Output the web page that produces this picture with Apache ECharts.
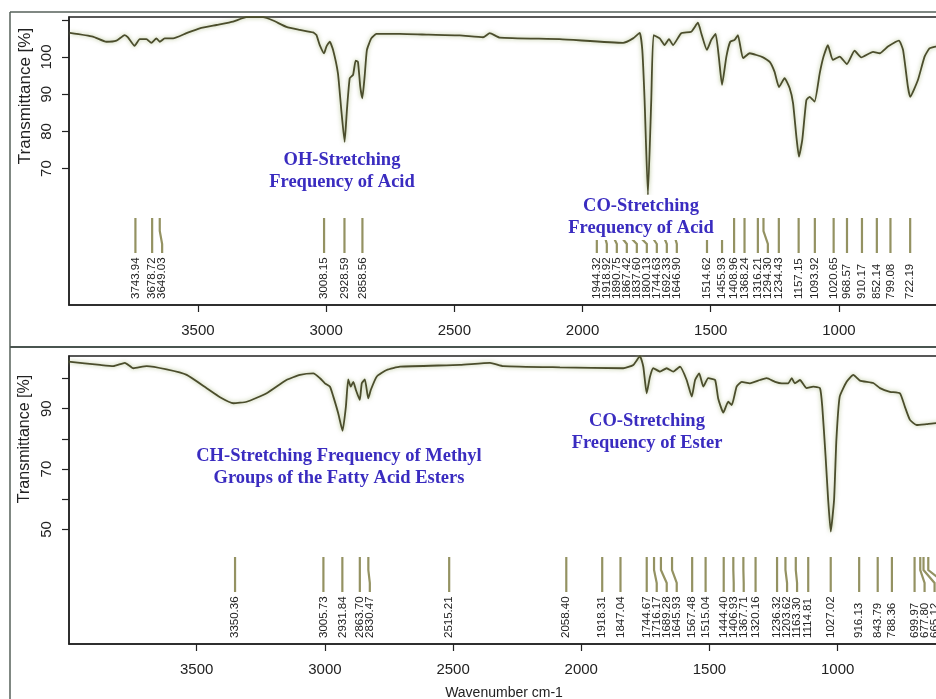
<!DOCTYPE html>
<html>
<head>
<meta charset="utf-8">
<script src="https://cdn.jsdelivr.net/npm/echarts@6/dist/echarts.min.js"></script>
<style>
  html, body { margin: 0; padding: 0; background: #fff; }
  #chart { width: 936px; height: 699px; }
</style>
</head>
<body>
<div id="chart"></div>
<script>
// Upper spectrum: fatty acid (wavenumber in cm-1, transmittance in %)
const topWavenumber = [4000, 3910, 3857, 3818, 3786, 3773, 3747, 3727, 3701, 3682, 3662, 3649, 3630, 3597, 3545, 3493, 3428, 3363, 3311, 3246, 3207, 3155, 3103, 3051, 3038, 3025, 3008, 2999, 2986, 2973, 2954, 2941, 2928, 2919, 2908, 2895, 2885, 2876, 2867, 2859, 2850, 2841, 2824, 2804, 2713, 2600, 2479, 2388, 2362, 2323, 2089, 1842, 1803, 1777, 1767, 1758, 1745, 1732, 1723, 1699, 1680, 1663, 1647, 1615, 1576, 1550, 1537, 1515, 1498, 1481, 1468, 1456, 1439, 1424, 1407, 1394, 1374, 1348, 1296, 1270, 1251, 1234, 1212, 1192, 1179, 1166, 1156, 1143, 1127, 1114, 1095, 1075, 1060, 1043, 1024, 997, 969, 939, 913, 867, 841, 809, 766, 750, 731, 722, 692, 666, 647, 623, 550, 450];
const topTransmittance = [106.5, 105.5, 104.1, 104.4, 105.9, 105.3, 103.0, 104.8, 104.8, 103.8, 105.0, 104.1, 105.0, 105.0, 106.4, 107.7, 108.6, 109.5, 110.7, 110.7, 109.8, 108.1, 107.3, 106.6, 105.9, 103.2, 101.0, 102.8, 104.1, 101.9, 95.6, 85.8, 77.2, 85.8, 94.3, 95.2, 99.0, 98.7, 92.0, 88.9, 94.7, 101.9, 105.0, 106.2, 106.2, 106.0, 105.8, 105.3, 106.4, 105.2, 104.8, 103.8, 105.0, 106.5, 101.9, 88.4, 62.9, 88.4, 105.9, 105.0, 103.2, 104.8, 103.2, 106.4, 106.8, 109.2, 106.4, 101.9, 104.6, 106.2, 99.7, 92.5, 100.1, 104.1, 104.6, 105.9, 99.7, 101.0, 99.9, 98.7, 96.0, 91.9, 94.3, 91.6, 87.6, 78.6, 73.2, 77.7, 88.4, 89.3, 88.0, 95.6, 100.1, 103.2, 99.2, 100.1, 98.1, 101.7, 99.9, 101.4, 101.0, 102.8, 104.4, 101.9, 92.0, 89.3, 93.8, 100.1, 102.3, 102.8, 103.0, 103.0];

// Lower spectrum: fatty acid esters
const bottomWavenumber = [4000, 3877, 3825, 3780, 3747, 3695, 3617, 3539, 3461, 3409, 3357, 3305, 3227, 3150, 3097, 3045, 3019, 3000, 2980, 2967, 2948, 2931, 2918, 2909, 2899, 2889, 2879, 2864, 2856, 2844, 2831, 2821, 2798, 2759, 2707, 2473, 2356, 2304, 2083, 1836, 1797, 1771, 1758, 1745, 1732, 1719, 1693, 1667, 1641, 1615, 1589, 1569, 1556, 1540, 1524, 1505, 1478, 1466, 1446, 1427, 1413, 1394, 1374, 1342, 1303, 1277, 1244, 1218, 1193, 1179, 1167, 1147, 1121, 1095, 1069, 1060, 1047, 1037, 1027, 1014, 1005, 992, 965, 939, 913, 861, 835, 796, 757, 738, 718, 692, 653, 616, 550, 450];
const bottomTransmittance = [105.6, 104.5, 104.1, 105.2, 103.4, 104.1, 103.0, 101.2, 96.8, 93.8, 91.8, 92.3, 95.1, 99.5, 101.2, 101.7, 100.1, 98.4, 97.3, 94.0, 88.5, 82.7, 90.7, 99.7, 97.3, 98.9, 96.2, 92.9, 98.4, 99.7, 93.4, 96.2, 100.6, 102.8, 103.9, 104.5, 105.2, 104.1, 103.7, 103.4, 104.5, 107.4, 103.9, 95.1, 100.6, 103.4, 102.3, 103.4, 102.3, 103.9, 99.5, 94.0, 99.5, 101.7, 97.3, 100.1, 99.5, 93.4, 88.7, 92.3, 91.2, 97.3, 98.9, 98.4, 99.5, 100.1, 98.9, 98.4, 98.4, 100.1, 98.4, 99.5, 96.8, 97.3, 96.8, 90.7, 74.1, 59.8, 49.3, 59.8, 79.6, 94.0, 98.9, 101.2, 99.3, 98.5, 96.8, 95.6, 95.1, 90.7, 86.3, 84.6, 84.9, 85.2, 85.2, 85.0];

// Picked peak positions (cm-1)
const topPeaks = [3743.94, 3678.72, 3649.03, 3008.15, 2928.59, 2858.56, 1944.32, 1918.92, 1890.75, 1867.42, 1837.60, 1800.13, 1744.63, 1692.33, 1646.90, 1514.62, 1455.93, 1408.96, 1368.24, 1316.21, 1294.30, 1234.43, 1157.15, 1093.92, 1020.65, 968.57, 910.17, 852.14, 799.08, 722.19];
const bottomPeaks = [3350.36, 3005.73, 2931.84, 2863.70, 2830.47, 2515.21, 2058.40, 1918.31, 1847.04, 1744.67, 1716.17, 1689.28, 1645.93, 1567.48, 1515.04, 1444.40, 1406.93, 1367.71, 1320.16, 1236.32, 1203.62, 1163.30, 1114.81, 1027.02, 916.13, 843.79, 788.36, 699.97, 677.80, 665.12, 646.53];

// Axis ticks and labels
const xTicks = [3500, 3000, 2500, 2000, 1500, 1000, 500];
const topYTicks = [70, 80, 90, 100, 110];
const topYLabels = [70, 80, 90, 100];
const bottomYTicks = [50, 60, 70, 80, 90, 100];
const bottomYLabels = [50, 70, 90];

const TOP_Y = { min: 33.33, max: 110.75 };
const BOTTOM_Y = { min: 12.09, max: 107.45 };

const SANS = '"Liberation Sans", Arial, sans-serif';
const SERIF = '"Liberation Serif", "Times New Roman", serif';
const INK = '#222';
const NOTE = '#3a2cc0';
const LABEL_GAP = 10;

function zip(xs, ys) { return xs.map((x, i) => [x, ys[i]]); }
const plain = v => String(v);

// wavenumber axis runs from high (left) to low (right)
function xAxis(gridIndex, low, high) {
  return {
    type: 'value', gridIndex, inverse: true, min: low, max: high,
    axisLine: { show: true, onZero: false, lineStyle: { color: INK, width: 1.5 } },
    axisTick: { show: true, inside: false, length: 7, customValues: xTicks, lineStyle: { color: INK, width: 1.2 } },
    axisLabel: { show: true, customValues: xTicks, formatter: plain, margin: 18, fontSize: 15, color: INK, fontFamily: SANS, hideOverlap: false },
    splitLine: { show: false }
  };
}

function yAxis(gridIndex, range, ticks, labels) {
  return {
    type: 'value', gridIndex, min: range.min, max: range.max,
    axisLine: { show: true, onZero: false, lineStyle: { color: INK, width: 1.5 } },
    axisTick: { show: true, inside: false, length: 7, customValues: ticks, lineStyle: { color: INK, width: 1.2 } },
    axisLabel: { customValues: labels, formatter: plain, rotate: 90, margin: 15, fontSize: 15, color: INK, fontFamily: SANS },
    splitLine: { show: false }
  };
}

function spectrum(idx, xs, ys) {
  return {
    type: 'line', xAxisIndex: idx, yAxisIndex: idx,
    data: zip(xs, ys), showSymbol: false, symbol: 'none', smooth: 0.15,
    lineStyle: { color: '#4b4d2c', width: 1.8, shadowBlur: 4, shadowColor: 'rgba(150,170,100,0.75)' },
    z: 3
  };
}

// Peak ticks with labels pushed apart so neighbours never overlap
function peakSeries(idx, peaks, range) {
  return {
    type: 'custom', xAxisIndex: idx, yAxisIndex: idx,
    data: peaks.map(v => [v, range.min]),
    silent: true, z: 4,
    renderItem(params, api) {
      const xs = peaks.map(v => api.coord([v, range.min])[0]);
      const order = xs.map((x, i) => i).sort((a, b) => xs[a] - xs[b]);
      const lx = new Array(xs.length);
      let prev = -Infinity;
      order.forEach(k => { lx[k] = Math.max(xs[k], prev + LABEL_GAP); prev = lx[k]; });
      const i = params.dataIndex;
      const x = xs[i], l = lx[i];
      const base = api.coord([peaks[i], range.min])[1];
      return {
        type: 'group',
        children: [
          {
            type: 'polyline',
            shape: { points: [[x, base - 87], [x, base - 74], [l, base - 61], [l, base - 52]] },
            style: { stroke: '#949262', lineWidth: 2.2, fill: null }
          },
          {
            type: 'text', x: l, y: base - 6, rotation: Math.PI / 2,
            style: { text: peaks[i].toFixed(2), font: '11.5px ' + SANS, fill: INK, align: 'left', verticalAlign: 'middle' }
          }
        ]
      };
    }
  };
}

function note(x, y, text, bg) {
  const el = {
    type: 'text', x, y, z: 100,
    style: { text, font: 'bold 18.5px ' + SERIF, fill: NOTE, align: 'center', verticalAlign: 'middle', lineHeight: 22 }
  };
  if (bg) { el.style.backgroundColor = '#fff'; el.style.padding = [1, 18, 0, 6]; }
  return el;
}

const gridBase = { left: 69, width: 923, height: 288, show: true, borderColor: INK, borderWidth: 1.5, backgroundColor: 'transparent', containLabel: false, outerBoundsMode: 'none' };

const chart = echarts.init(document.getElementById('chart'), null, { renderer: 'canvas' });
chart.setOption({
  animation: false,
  backgroundColor: '#fff',
  grid: [
    Object.assign({ top: 17 }, gridBase),
    Object.assign({ top: 356 }, gridBase)
  ],
  xAxis: [xAxis(0, 403, 4003), xAxis(1, 398, 3998)],
  yAxis: [yAxis(0, TOP_Y, topYTicks, topYLabels), yAxis(1, BOTTOM_Y, bottomYTicks, bottomYLabels)],
  series: [
    spectrum(0, topWavenumber, topTransmittance),
    spectrum(1, bottomWavenumber, bottomTransmittance),
    peakSeries(0, topPeaks, TOP_Y),
    peakSeries(1, bottomPeaks, BOTTOM_Y)
  ],
  graphic: [
    // figure frame
    { type: 'line', shape: { x1: 10, y1: 12, x2: 936, y2: 12 }, style: { stroke: '#56605a', lineWidth: 1.5 }, z: 50 },
    { type: 'line', shape: { x1: 10, y1: 12, x2: 10, y2: 699 }, style: { stroke: '#56605a', lineWidth: 1.5 }, z: 50 },
    { type: 'line', shape: { x1: 10, y1: 347, x2: 936, y2: 347 }, style: { stroke: '#4a5550', lineWidth: 1.8 }, z: 50 },
    // axis titles
    { type: 'text', x: 25, y: 96, rotation: Math.PI / 2, z: 50,
      style: { text: 'Transmittance [%]', font: '17px ' + SANS, fill: INK, align: 'center', verticalAlign: 'middle' } },
    { type: 'text', x: 25, y: 439, rotation: Math.PI / 2, z: 50,
      style: { text: 'Transmittance [%]', font: '16px ' + SANS, fill: INK, align: 'center', verticalAlign: 'middle' } },
    { type: 'text', x: 504, y: 693, z: 50,
      style: { text: 'Wavenumber cm-1', font: '14px ' + SANS, fill: INK, align: 'center', verticalAlign: 'middle' } },
    // band assignments
    note(342, 171.5, 'OH-Stretching\nFrequency of Acid', false),
    note(647, 217.5, 'CO-Stretching\nFrequency of Acid', true),
    note(339, 467.5, 'CH-Stretching Frequency of Methyl\nGroups of the Fatty Acid Esters', false),
    note(647, 432.5, 'CO-Stretching\nFrequency of Ester', false)
  ]
});
</script>
</body>
</html>
